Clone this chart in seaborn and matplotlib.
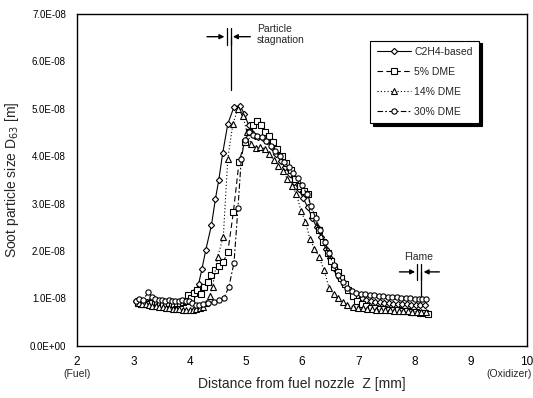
"""Soot particle size D63 along the fuel-nozzle axis for C2H4 flames doped with DME."""

import matplotlib

matplotlib.use("Agg")

import matplotlib.pyplot as plt
import numpy as np
import pandas as pd
import seaborn as sns

# distance from fuel nozzle [mm] and D63 in units of 1e-8 m
x_c2h4 = [3.05, 3.10, 3.15, 3.20, 3.25, 3.30, 3.35, 3.40, 3.45, 3.50, 3.55, 3.60, 3.65, 3.70,
          3.75, 3.80, 3.85, 3.90, 3.95, 4.00, 4.05, 4.10,
          4.16, 4.22, 4.29, 4.39, 4.46, 4.52, 4.59, 4.68, 4.79, 4.90,
          4.97, 5.05, 5.10, 5.16, 5.22, 5.30, 5.38, 5.46, 5.54, 5.62,
          5.70, 5.78, 5.86, 5.94, 6.02, 6.10, 6.18, 6.26, 6.34, 6.42,
          6.50, 6.58, 6.66, 6.74, 6.82, 6.90, 6.98, 7.06, 7.14, 7.22,
          7.30, 7.38, 7.46, 7.54, 7.62, 7.70, 7.78, 7.86, 7.94, 8.02,
          8.10, 8.18]
y_c2h4 = [0.95, 0.93, 0.94, 0.92, 0.93, 0.94, 0.92, 0.93, 0.91, 0.92, 0.93, 0.92, 0.91, 0.93,
          0.92, 0.93, 0.92, 0.94, 0.95, 0.98, 1.05, 1.15,
          1.30, 1.62, 2.03, 2.55, 3.10, 3.50, 4.07, 4.68, 5.04, 5.06,
          4.90, 4.65, 4.50, 4.42, 4.40, 4.38, 4.33, 4.20, 4.05, 3.90,
          3.78, 3.62, 3.45, 3.30, 3.12, 2.92, 2.70, 2.50, 2.30, 2.05,
          1.85, 1.63, 1.45, 1.30, 1.18, 1.10, 1.05, 1.00, 0.97, 0.95,
          0.93, 0.92, 0.91, 0.90, 0.89, 0.89, 0.88, 0.88, 0.87, 0.87,
          0.86, 0.86]

x_dme5 = [3.08, 3.13, 3.18, 3.23, 3.28, 3.33, 3.38, 3.43, 3.48, 3.53, 3.58, 3.63, 3.68, 3.73,
          3.78, 3.83, 3.88, 3.93, 3.98, 4.03,
          4.08, 4.14, 4.20, 4.26, 4.32, 4.38, 4.46, 4.53, 4.60, 4.68,
          4.78, 4.88, 4.98, 5.05, 5.12, 5.20, 5.27, 5.34, 5.41, 5.48,
          5.56, 5.64, 5.72, 5.80, 5.88, 5.96, 6.04, 6.10, 6.20, 6.30,
          6.38, 6.46, 6.52, 6.57, 6.64, 6.70, 6.76, 6.82, 6.90, 6.98,
          7.06, 7.14, 7.22, 7.30, 7.38, 7.46, 7.54, 7.62, 7.70, 7.78,
          7.86, 7.94, 8.02, 8.10, 8.18, 8.24]
y_dme5 = [0.90, 0.89, 0.90, 0.88, 0.89, 0.90, 0.88, 0.89, 0.90, 0.88, 0.89, 0.90, 0.89, 0.88,
          0.90, 0.91, 0.92, 0.95, 1.08, 1.00,
          1.12, 1.18, 1.10, 1.25, 1.35, 1.50, 1.60, 1.68, 1.77, 1.98,
          2.83, 3.88, 4.30, 4.50, 4.65, 4.75, 4.65, 4.52, 4.42, 4.30,
          4.15, 4.00, 3.85, 3.70, 3.52, 3.38, 3.27, 3.20, 2.76, 2.45,
          2.20, 1.96, 1.80, 1.67, 1.55, 1.43, 1.30, 1.18, 1.05, 0.95,
          0.88, 0.84, 0.80, 0.79, 0.78, 0.77, 0.76, 0.75, 0.75, 0.74,
          0.73, 0.72, 0.71, 0.70, 0.69, 0.67]

x_dme14 = [3.10, 3.16, 3.22, 3.28, 3.34, 3.40, 3.46, 3.52, 3.58, 3.64, 3.70, 3.76, 3.82, 3.88,
           3.94, 4.00, 4.06, 4.12, 4.18, 4.24,
           4.30, 4.36, 4.41, 4.50, 4.60, 4.68, 4.77, 4.86, 4.95, 5.02,
           5.10, 5.18, 5.26, 5.34, 5.42, 5.50, 5.58, 5.66, 5.74, 5.82,
           5.90, 5.98, 6.06, 6.14, 6.22, 6.30, 6.39, 6.48, 6.56, 6.64,
           6.72, 6.80, 6.90, 7.00, 7.08, 7.16, 7.24, 7.32, 7.40, 7.48,
           7.56, 7.64, 7.72, 7.80, 7.88, 7.96, 8.04, 8.12, 8.20]
y_dme14 = [0.90, 0.89, 0.88, 0.86, 0.85, 0.84, 0.83, 0.81, 0.80, 0.79, 0.78, 0.77, 0.77, 0.76,
           0.76, 0.75, 0.76, 0.77, 0.79, 0.82,
           0.90, 1.05, 1.25, 1.88, 2.30, 3.95, 4.68, 5.00, 4.85, 4.50,
           4.25, 4.18, 4.20, 4.15, 4.05, 3.92, 3.80, 3.68, 3.52, 3.38,
           3.20, 2.85, 2.62, 2.25, 2.05, 1.88, 1.60, 1.22, 1.10, 1.00,
           0.92, 0.87, 0.83, 0.80, 0.79, 0.78, 0.77, 0.76, 0.76, 0.75,
           0.75, 0.74, 0.74, 0.73, 0.73, 0.72, 0.72, 0.71, 0.71]

x_dme30 = [3.05, 3.11, 3.17, 3.27, 3.33, 3.39, 3.45, 3.51, 3.57, 3.63, 3.69, 3.75, 3.81, 3.87,
           3.93, 3.99, 4.05, 4.11, 4.17, 4.24,
           4.32, 4.43, 4.52, 4.61, 4.70, 4.79, 4.86, 4.92, 4.98, 5.05,
           5.12, 5.20, 5.28, 5.36, 5.44, 5.52, 5.60, 5.68, 5.76, 5.84,
           5.92, 6.00, 6.08, 6.16, 6.24, 6.32, 6.40, 6.48, 6.56, 6.64,
           6.72, 6.80, 6.88, 6.96, 7.04, 7.12, 7.20, 7.28, 7.36, 7.44,
           7.52, 7.60, 7.68, 7.76, 7.84, 7.92, 8.00, 8.08, 8.14, 8.20]
y_dme30 = [0.95, 0.98, 0.96, 1.14, 1.02, 0.99, 0.97, 0.96, 0.95, 0.96, 0.95, 0.94, 0.95, 0.96,
           0.95, 0.94, 0.90, 0.86, 0.86, 0.88,
           0.90, 0.93, 0.97, 1.00, 1.25, 1.75, 2.90, 3.95, 4.35, 4.50,
           4.45, 4.42, 4.40, 4.33, 4.22, 4.10, 4.00, 3.88, 3.78, 3.65,
           3.55, 3.40, 3.20, 2.95, 2.70, 2.45, 2.20, 1.95, 1.70, 1.50,
           1.35, 1.22, 1.15, 1.12, 1.10, 1.10, 1.08, 1.07, 1.06, 1.05,
           1.04, 1.03, 1.02, 1.01, 1.00, 1.00, 0.99, 0.98, 0.98, 0.99]

SERIES = ["C2H4-based", "5% DME", "14% DME", "30% DME"]
MARKERS = {"C2H4-based": "D", "5% DME": "s", "14% DME": "^", "30% DME": "o"}
LINESTYLES = {"C2H4-based": "-", "5% DME": (0, (5, 3)), "14% DME": (0, (1, 2)),
              "30% DME": (0, (5, 2, 1.5, 2))}
MARKER_SIZES = {"C2H4-based": 3.2, "5% DME": 3.8, "14% DME": 4.0, "30% DME": 3.8}

FONT = ["Liberation Sans", "DejaVu Sans"]


def build_frame() -> pd.DataFrame:
    """Stack the four series into one long table."""
    parts = []
    for name, xs, ys in zip(SERIES,
                            [x_c2h4, x_dme5, x_dme14, x_dme30],
                            [y_c2h4, y_dme5, y_dme14, y_dme30]):
        parts.append(pd.DataFrame({"z": xs, "d63": np.array(ys) * 1e-8, "series": name}))
    return pd.concat(parts, ignore_index=True)


def draw_gap_marker(ax, x_left, x_right, y, y_bar, y_stem, arrow_len):
    """Two bars with inward arrows, plus a stem going down from the right bar."""
    for xb in (x_left, x_right):
        ax.plot([xb, xb], [y - y_bar, y + y_bar], color="black", lw=0.9)
    ax.plot([x_right, x_right], [y, y_stem], color="black", lw=0.9)
    ax.annotate("", xy=(x_left - 0.04, y), xytext=(x_left - arrow_len, y),
                arrowprops=dict(arrowstyle="-|>", color="black", lw=1.0,
                                mutation_scale=7, shrinkA=0, shrinkB=0))
    ax.annotate("", xy=(x_right + 0.04, y), xytext=(x_right + arrow_len, y),
                arrowprops=dict(arrowstyle="-|>", color="black", lw=1.0,
                                mutation_scale=7, shrinkA=0, shrinkB=0))


def main() -> None:
    sns.set_theme(style="white")
    plt.rcParams["font.family"] = FONT

    df = build_frame()

    fig, ax = plt.subplots(figsize=(5.33, 3.98), dpi=100)
    fig.subplots_adjust(left=0.1445, right=0.989, bottom=0.131, top=0.965)

    for name in SERIES:
        sns.lineplot(data=df[df["series"] == name], x="z", y="d63", ax=ax,
                     sort=False, estimator=None, color="black", lw=0.8,
                     linestyle=LINESTYLES[name], marker=MARKERS[name],
                     markersize=MARKER_SIZES[name], markerfacecolor="white",
                     markeredgecolor="black", markeredgewidth=0.8, label=name)

    ax.set_xlim(2, 10)
    ax.set_ylim(0, 7e-8)
    ax.set_xticks(range(2, 11))
    ax.set_xticklabels([str(v) for v in range(2, 11)], fontsize=8.5)
    yticks = [i * 1e-8 for i in range(8)]
    ax.set_yticks(yticks)
    ax.set_yticklabels([f"{v:.1E}" for v in yticks], fontsize=7)
    ax.tick_params(axis="both", direction="in", length=3, width=0.8, colors="black")
    ax.tick_params(axis="x", pad=7)
    ax.tick_params(axis="y", pad=8)

    for spine in ax.spines.values():
        spine.set_color("black")
        spine.set_linewidth(1.0)

    ax.set_xlabel("Distance from fuel nozzle  Z [mm]", fontsize=10)
    ax.xaxis.set_label_coords(0.5, -0.095)
    ax.set_ylabel("Soot particle size D$_{63}$ [m]", fontsize=10, labelpad=6)

    ax.text(0.0, -0.071, "(Fuel)", transform=ax.transAxes, ha="center", va="top",
            fontsize=7.5)
    ax.text(0.91, -0.071, "(Oxidizer)", transform=ax.transAxes, ha="left", va="top",
            fontsize=7.5)

    # particle stagnation marker
    draw_gap_marker(ax, 4.66, 4.73, 6.52e-8, 0.18e-8, 5.4e-8, 0.35)
    ax.text(5.2, 6.78e-8, "Particle\nstagnation", ha="left", va="top", fontsize=7.5,
            linespacing=1.1)

    # flame marker
    draw_gap_marker(ax, 8.05, 8.12, 1.56e-8, 0.17e-8, 1.05e-8, 0.32)
    ax.text(8.08, 1.88e-8, "Flame", ha="center", va="center", fontsize=7.5)

    leg = ax.legend(loc="upper left", bbox_to_anchor=(0.64, 0.935), fontsize=7.5,
                    frameon=True, fancybox=False, edgecolor="black", framealpha=1,
                    shadow={"color": "black", "alpha": 1},
                    handlelength=3.3, labelspacing=0.95, borderpad=0.6,
                    handletextpad=0.3)
    leg.get_frame().set_linewidth(0.8)

    fig.savefig("out.png", dpi=100)
    plt.close(fig)


if __name__ == "__main__":
    main()
